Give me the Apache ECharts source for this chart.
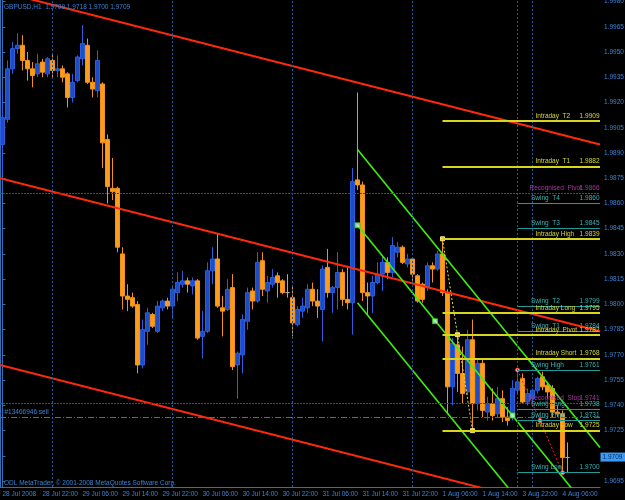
<!DOCTYPE html>
<html><head><meta charset="utf-8">
<script src="https://cdn.jsdelivr.net/npm/echarts@6/dist/echarts.min.js"></script>
<style>html,body{margin:0;padding:0;background:#000;}#c{width:625px;height:500px;}</style>
</head><body><div id="c"></div>
<script>
// ---------- DATA ----------
const symbolTitle = 'GBPUSD,H1  1.9709 1.9718 1.9700 1.9709';
const copyrightText = 'ODL MetaTrader, \u00a9 2001-2008 MetaQuotes Software Corp.';
const xTickLabels = ['28 Jul 2008','28 Jul 22:00','29 Jul 06:00','29 Jul 14:00','29 Jul 22:00','30 Jul 06:00','30 Jul 14:00','30 Jul 22:00','31 Jul 06:00','31 Jul 14:00','31 Jul 22:00','1 Aug 06:00','1 Aug 14:00','3 Aug 22:00','4 Aug 06:00'];
const barsPerLabel = 8;
const totalSlots = 120; // 114 bars + right shift
const yTicks = [1.9695,1.9710,1.9725,1.9740,1.9755,1.9770,1.9785,1.9800,1.9815,1.9830,1.9845,1.9860,1.9875,1.9890,1.9905,1.9920,1.9935,1.9950,1.9965,1.9980];

const open = [1.9895,1.9910,1.9940,1.9952,1.9954,1.9945,1.9940,1.9937,1.9944,1.9937,1.9945,1.9939,1.9940,1.9937,1.9923,1.9933,1.9946,1.9954,1.9932,1.9927,
1.9931,1.9898,1.9869,1.9869,1.9830,1.9805,1.9804,1.9800,1.9764,1.9784,1.9794,1.9784,1.9798,1.9802,1.9799,1.9807,1.9812,1.9814,1.9811,1.9814,
1.9781,1.9784,1.9820,1.9827,1.9798,1.9797,1.9810,1.9764,1.9770,1.9790,1.9808,1.9802,1.9826,1.9808,1.9812,1.9817,1.9814,1.9807,1.9804,1.9788,
1.9796,1.9798,1.9809,1.9802,1.9797,1.9822,1.9807,1.9810,1.9819,1.9803,1.9801,1.9874,1.9871,1.9807,1.9805,1.9813,1.9818,1.9825,1.9819,1.9831,
1.9834,1.9824,1.9827,1.9817,1.9812,1.9810,1.9823,1.9821,1.9830,1.9807,1.9751,1.9776,1.9759,1.9748,1.9779,1.9741,1.9765,1.9736,1.9741,1.9735,
1.9744,1.9733,1.9733,1.9749,1.9756,1.9742,1.9744,1.9749,1.9757,1.9752,1.9750,1.9736,1.9735,1.9709];
const high = [1.9928,1.9945,1.9956,1.9961,1.9960,1.9950,1.9944,1.9949,1.9946,1.9947,1.9949,1.9948,1.9942,1.9938,1.9937,1.9948,1.9966,1.9958,1.9935,1.9951,
1.9932,1.9901,1.9887,1.9870,1.9834,1.9812,1.9807,1.9802,1.9791,1.9798,1.9795,1.9802,1.9803,1.9804,1.9811,1.9819,1.9820,1.9816,1.9816,1.9815,
1.9796,1.9825,1.9834,1.9842,1.9805,1.9815,1.9818,1.9772,1.9794,1.9810,1.9810,1.9831,1.9831,1.9817,1.9821,1.9819,1.9815,1.9818,1.9811,1.9799,
1.9804,1.9812,1.9813,1.9809,1.9823,1.9833,1.9811,1.9831,1.9821,1.9823,1.9881,1.9926,1.9873,1.9813,1.9817,1.9825,1.9829,1.9828,1.9840,1.9837,
1.9835,1.9830,1.9828,1.9818,1.9813,1.9825,1.9825,1.9832,1.9839,1.9809,1.9780,1.9782,1.9775,1.9785,1.9791,1.9768,1.9768,1.9745,1.9750,1.9751,
1.9749,1.9739,1.9755,1.9761,1.9759,1.9750,1.9750,1.9757,1.9760,1.9754,1.9752,1.9740,1.9737,1.9718];
const low = [1.9879,1.9908,1.9937,1.9949,1.9939,1.9933,1.9929,1.9935,1.9935,1.9935,1.9935,1.9935,1.9932,1.9917,1.9920,1.9932,1.9942,1.9931,1.9923,1.9923,
1.9881,1.9860,1.9862,1.9831,1.9797,1.9796,1.9798,1.9759,1.9762,1.9776,1.9786,1.9783,1.9796,1.9797,1.9792,1.9802,1.9810,1.9807,1.9806,1.9779,
1.9768,1.9783,1.9812,1.9798,1.9781,1.9796,1.9761,1.9744,1.9759,1.9785,1.9797,1.9801,1.9805,1.9801,1.9810,1.9804,1.9806,1.9804,1.9781,1.9787,
1.9792,1.9795,1.9799,1.9792,1.9778,1.9804,1.9795,1.9797,1.9799,1.9797,1.9782,1.9868,1.9802,1.9794,1.9795,1.9812,1.9808,1.9815,1.9816,1.9828,
1.9824,1.9822,1.9814,1.9801,1.9801,1.9808,1.9813,1.9820,1.9805,1.9735,1.9740,1.9748,1.9741,1.9746,1.9725,1.9737,1.9733,1.9731,1.9731,1.9733,
1.9730,1.9728,1.9731,1.9746,1.9741,1.9740,1.9741,1.9747,1.9749,1.9744,1.9733,1.9733,1.9700,1.9700];
const close = [1.9911,1.9940,1.9952,1.9954,1.9945,1.9940,1.9936,1.9943,1.9938,1.9946,1.9939,1.9940,1.9935,1.9923,1.9932,1.9947,1.9955,1.9932,1.9928,1.9945,
1.9896,1.9870,1.9867,1.9834,1.9805,1.9803,1.9799,1.9764,1.9785,1.9795,1.9787,1.9799,1.9802,1.9799,1.9809,1.9813,1.9814,1.9812,1.9814,1.9780,
1.9784,1.9820,1.9827,1.9799,1.9796,1.9809,1.9763,1.9771,1.9791,1.9807,1.9802,1.9825,1.9809,1.9813,1.9816,1.9813,1.9807,1.9807,1.9789,1.9797,
1.9799,1.9809,1.9802,1.9799,1.9821,1.9807,1.9810,1.9819,1.9803,1.9801,1.9873,1.9871,1.9807,1.9805,1.9813,1.9818,1.9825,1.9819,1.9835,1.9834,
1.9825,1.9827,1.9818,1.9802,1.9803,1.9823,1.9821,1.9830,1.9807,1.9751,1.9777,1.9759,1.9747,1.9779,1.9741,1.9765,1.9737,1.9741,1.9734,1.9744,
1.9733,1.9731,1.9750,1.9754,1.9742,1.9747,1.9749,1.9756,1.9751,1.9748,1.9736,1.9735,1.9709,1.9709];
const lastPrice = 1.9709;

// trend lines: [barIndex, price]
const redUpper = [[-0.5,1.9986],[119.5,1.9895]];
const redMid   = [[-0.5,1.9875],[119.5,1.9784]];
const redLower = [[-0.5,1.9764],[119.5,1.9673]];
const greenUpper = [[71,1.9892],[119.5,1.9715]];
const greenMid   = [[71,1.9847],[119.5,1.9670]];
const greenLower = [[71,1.9801],[119.5,1.9624]];
const greenAnchors = [[71,1.9847],[86.5,1.9790],[102,1.9734]];
const intradayLeg = [[88,1.9839],[91,1.9782],[94,1.9725]];
const swingLeg = [[103,1.9761],[107.5,1.9731],[112,1.9700]];
const separators = [10,34,58,82,103,106];

const levelNames  = ['Intraday  T2','Intraday  T1','Recognised  Pivot','Swing  T4','Swing  T3','Intraday High','Swing  T2','Intraday Long','Swing  T1','Intraday  Pivot','Intraday Short','Swing High','Recognised  Stop','Swing Long','Swing Pivot','Intraday Low','Swing Low'];
const levelValues = [1.9909,1.9882,1.9866,1.9860,1.9845,1.9839,1.9799,1.9795,1.9784,1.9782,1.9768,1.9761,1.9741,1.9738,1.9731,1.9725,1.9700];
const levelKinds  = ['i','i','r','s','s','i','s','i','s','i','i','s','r','s','s','i','s'];
const orderLabel = '#13466946 sell';
const orderPrice = 1.9733;

// ---------- STYLE ----------
const FONT = "'Liberation Sans',Arial,sans-serif";
const axisBlue = '#2f6fb4';
const textBlue = '#3a84d6';
const kindStyle = {
  i: {color:'#d6d61e', text:'#d8d830', width:2, start:88, nameAt:106.7, type:'solid'},
  s: {color:'#1e9c9c', text:'#36b4b4', width:1, start:103, nameAt:105.8, type:'solid'},
  r: {color:'#8c1e8c', text:'#a8359f', width:1, start:-0.5, nameAt:105.5, type:[2,1]}
};
const yMin = 1.96915, yMax = 1.99809;

const chart = echarts.init(document.getElementById('c'), null, {renderer:'canvas'});
const slots = Array.from({length: totalSlots}, (_, i) => String(i));
const candles = open.map((o, i) => [o, close[i], low[i], high[i]]);

const levelLines = levelValues.map((v, i) => {
  const k = kindStyle[levelKinds[i]];
  return [{coord:[k.start, v], lineStyle:{color:k.color, width:k.width, type:k.type}}, {coord:[119.5, v]}];
});
const levelTexts = [];
levelValues.forEach((v, i) => {
  const k = kindStyle[levelKinds[i]];
  levelTexts.push({coord:[k.nameAt, v], label:{formatter: levelNames[i], align:'left', color:k.text}});
  levelTexts.push({coord:[119.5, v], label:{formatter: v.toFixed(4), align:'right', color:k.text}});
});
levelTexts.push({coord:[0.5, orderPrice], label:{formatter: orderLabel, align:'left', color:textBlue}});
// current price box on the price scale
levelTexts.push({coord:[totalSlots - 0.5, lastPrice],
  label:{formatter: lastPrice.toFixed(4), align:'left', verticalAlign:'middle', position:[1,0],
    backgroundColor:'#3c9cf5', color:'#07235a', padding:[1,3,1,2]}});

function trend(data, color, width, type) {
  return {type:'line', xAxisIndex:1, yAxisIndex:0, data, showSymbol:false, symbol:'none', clip:true,
    lineStyle:{color, width, type: type || 'solid'}, silent:true, z:3};
}

const option = {
  backgroundColor:'#000000',
  animation:false,
  title:[{text: symbolTitle, left:4, top:4, padding:0, textStyle:{color:textBlue, fontSize:6.5, fontWeight:'normal', fontFamily:FONT}}],
  graphic:[{type:'text', left:4, top:480, style:{text: copyrightText, fill:textBlue, font:'6.5px ' + FONT}}],
  grid:{left:0, right:25, top:0, bottom:13, containLabel:false, outerBoundsMode:'none'},
  xAxis:[
    {type:'category', data:slots, boundaryGap:true, axisLine:{show:true, lineStyle:{color:axisBlue}},
     axisTick:{show:false}, splitLine:{show:false},
     axisLabel:{interval: barsPerLabel - 1, align:'left', margin:4, color:textBlue, fontSize:6.5, fontFamily:FONT,
       hideOverlap:false, formatter:(v, idx) => xTickLabels[idx / barsPerLabel] || ''}},
    {type:'value', min:-0.5, max:totalSlots - 0.5, show:false}
  ],
  yAxis:[
    {type:'value', position:'right', min:yMin, max:yMax, scale:true,
     axisLine:{show:true, lineStyle:{color:axisBlue}}, splitLine:{show:false},
     axisTick:{show:true, length:3, customValues:yTicks, lineStyle:{color:axisBlue}},
     axisLabel:{customValues:yTicks, margin:4, color:textBlue, fontSize:6.5, fontFamily:FONT, formatter:v => v.toFixed(4)}},
    {type:'value', position:'left', min:yMin, max:yMax, axisLine:{show:true, lineStyle:{color:axisBlue}},
     axisLabel:{show:false}, axisTick:{show:false}, splitLine:{show:false}}
  ],
  series:[
    {type:'line', xAxisIndex:1, yAxisIndex:0, data:[], silent:true, z:6,
     markLine:{silent:true, symbol:['none','none'], label:{show:false},
       data: separators.map(s => ({xAxis:s, lineStyle:{color:'#1f5d99', width:1, type:[2,2]}}))
         .concat(levelLines)
         .concat([[{coord:[-0.5, orderPrice], lineStyle:{color:'#1c9a1c', width:1, type:[6,2,1,2]}}, {coord:[119.5, orderPrice]}]])},
     markPoint:{silent:true, symbol:'rect', symbolSize:1, itemStyle:{color:'rgba(0,0,0,0)'}, z:10,
       label:{show:true, position:[0,-1], verticalAlign:'bottom', fontSize:6.5, fontFamily:FONT},
       data: levelTexts}},
    trend(redUpper, '#ff2a0a', 2), trend(redMid, '#ff2a0a', 2), trend(redLower, '#ff2a0a', 2),
    trend(greenUpper, '#3ef010', 1.6), trend(greenMid, '#3ef010', 1.6), trend(greenLower, '#3ef010', 1.6),
    {type:'line', xAxisIndex:1, yAxisIndex:0, data:intradayLeg, symbol:'rect', symbolSize:4, showSymbol:true,
     itemStyle:{color:'#e8d040', borderColor:'#ffe080'}, lineStyle:{color:'#e0e040', width:1, type:[2,2]}, z:4, silent:true},
    {type:'line', xAxisIndex:1, yAxisIndex:0, data:swingLeg, symbol:'circle', symbolSize:4, showSymbol:true,
     itemStyle:{color:'#ffb0b0', borderColor:'#ff4040'}, lineStyle:{color:'#e02828', width:1, type:[2,2]}, z:4, silent:true},
    {type:'scatter', xAxisIndex:1, yAxisIndex:0, data:greenAnchors, symbol:'rect', symbolSize:5,
     itemStyle:{color:'#d0ffd0', borderColor:'#20d020', borderWidth:1}, z:5, silent:true},
    {type:'candlestick', xAxisIndex:0, yAxisIndex:0, data:candles, barWidth:4, z:2,
     itemStyle:{color:'#1d4cc6', color0:'#ff9b1a', borderColor:'#2a5fe0', borderColor0:'#f0921a', borderColorDoji:'#a8a8a8', borderWidth:1}}
  ]
};
chart.setOption(option);
</script></body></html>
